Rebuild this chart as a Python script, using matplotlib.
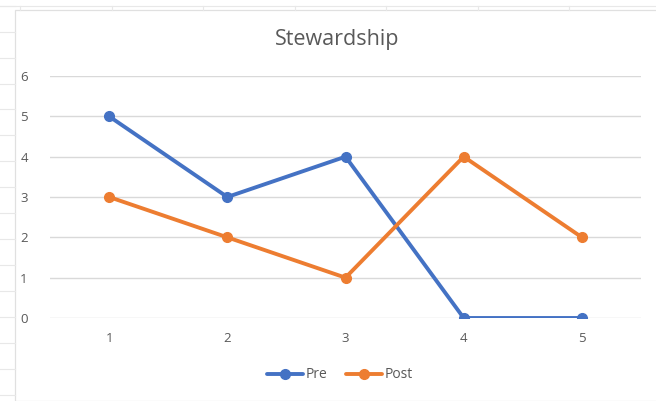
import matplotlib
matplotlib.use("Agg")
import matplotlib.pyplot as plt
from matplotlib.lines import Line2D
from matplotlib.patches import Rectangle

# data
categories = [1, 2, 3, 4, 5]
pre = [5, 3, 4, 0, 0]
post = [3, 2, 1, 4, 2]
title = "Stewardship"

BLUE = "#4472C4"
ORANGE = "#ED7D31"
GRID = "#D9D9D9"
TEXT = "#595959"

plt.rcParams["font.family"] = ["Open Sans", "DejaVu Sans"]

W, H = 656, 401
fig = plt.figure(figsize=(W / 100, H / 100), dpi=100)
fig.patch.set_facecolor("white")

# faint spreadsheet cells behind the chart object
for y in [6, 32, 58, 84, 109, 135, 161, 187, 213, 239, 265, 291, 317, 343, 369, 395]:
    fig.add_artist(Line2D([0, 15 / W], [1 - y / H] * 2, color="#E8E8E8", lw=0.8))
fig.add_artist(Line2D([0, 1], [1 - 6 / H] * 2, color="#E8E8E8", lw=0.8))
for x in [20, 112, 203, 295, 386, 478, 569]:
    fig.add_artist(Line2D([x / W] * 2, [1 - 6 / H, 1 - 10 / H], color="#E8E8E8", lw=0.8))

# chart area border
fig.add_artist(Rectangle((15 / W, 0.5 / H), 1.2, 1 - 10.5 / H, transform=fig.transFigure,
                         fill=False, edgecolor="#E0E0E0", lw=0.9))

ax = fig.add_axes([50 / W, 1 - 318 / H, (641 - 50) / W, (318 - 76) / H])
ax.set_facecolor("none")

ax.plot(categories, pre, color=BLUE, lw=2.8, marker="o", ms=7, label="Pre",
        solid_capstyle="round", zorder=3)
ax.plot(categories, post, color=ORANGE, lw=2.8, marker="o", ms=7, label="Post",
        solid_capstyle="round", zorder=3)

ax.set_xlim(0.5, 5.5)
ax.set_ylim(0, 6)
ax.set_yticks(range(0, 7))
ax.set_xticks(categories)
ax.yaxis.grid(True, color=GRID, lw=1.0)
ax.set_axisbelow(True)
for s in ax.spines.values():
    s.set_visible(False)
ax.tick_params(axis="both", length=0, labelsize=9.5, labelcolor=TEXT)
ax.tick_params(axis="y", pad=16)
ax.tick_params(axis="x", pad=10)

fig.text(337 / W, 1 - 40 / H, title, ha="center", va="center", fontsize=15.5, color=TEXT)

fig.legend(loc="center", bbox_to_anchor=(340 / W, 1 - 375 / H), ncol=2, frameon=False,
           fontsize=10, labelcolor=TEXT, handlelength=2.6, handletextpad=0.2,
           columnspacing=1.3)

fig.savefig("out.png", dpi=100)
